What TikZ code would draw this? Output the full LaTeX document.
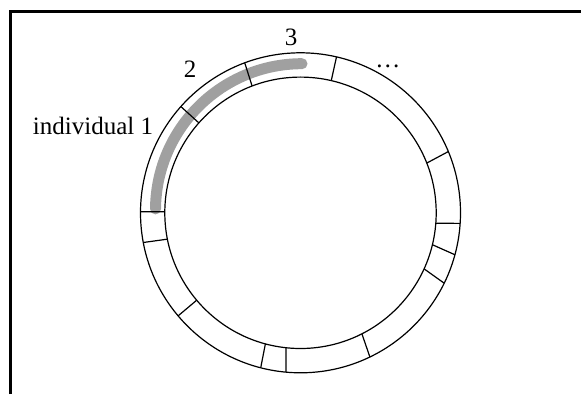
\documentclass[tikz,border=0pt]{standalone}
\usepackage{fontspec}
\setmainfont{Liberation Serif}
\definecolor{hlgray}{RGB}{160,160,160}
\begin{document}
\begin{tikzpicture}[x=1pt,y=1pt,
  ring/.style={line width=1.2pt},
  divider/.style={line width=1.2pt},
  frameline/.style={line width=3pt},
  highlight/.style={line width=11pt, line cap=round, draw=hlgray},
  lbl/.style={inner sep=0pt, font=\fontsize{25}{30}\selectfont}]
\useasboundingbox (0,0) rectangle (581,394);
\draw[frameline] (10.5,0) -- (10.5,382) -- (581,382);
\coordinate (c) at (300.5,181.2);
\coordinate (hc) at (302,183.8);
% highlighted segment
\draw[highlight] (hc) ++(179.5:146.5) arc[start angle=179.5, end angle=90, radius=146.5];
\begin{scope}[shift={(c)}]
  \draw[ring] (0,0) circle[radius=160];
  \draw[ring] (0,0) circle[radius=135.7];
  \foreach \a/\b in {77/76.9, 110.4/110.9, 138.4/138.5, 179.6/179.6, 190.7/191.2,
                     220.1/220.1, 255.6/255, 264.8/263.9, 295.7/296.9, 333.9/335.6,
                     344.8/346.4, 356.2/355.6, 22.5/21.5}
    \draw[divider] (\b:135.7) -- (\a:160);
\end{scope}
\node[lbl, anchor=base west] (ind) at (32.7,259.7) {individual 1};
\node[lbl, anchor=base] (two) at (190,316.7) {2};
\node[lbl, anchor=base] (three) at (291,348) {3};
\node[lbl, anchor=base west] (dots) at (375.2,326.5) {\ldots};
\end{tikzpicture}
\end{document}
